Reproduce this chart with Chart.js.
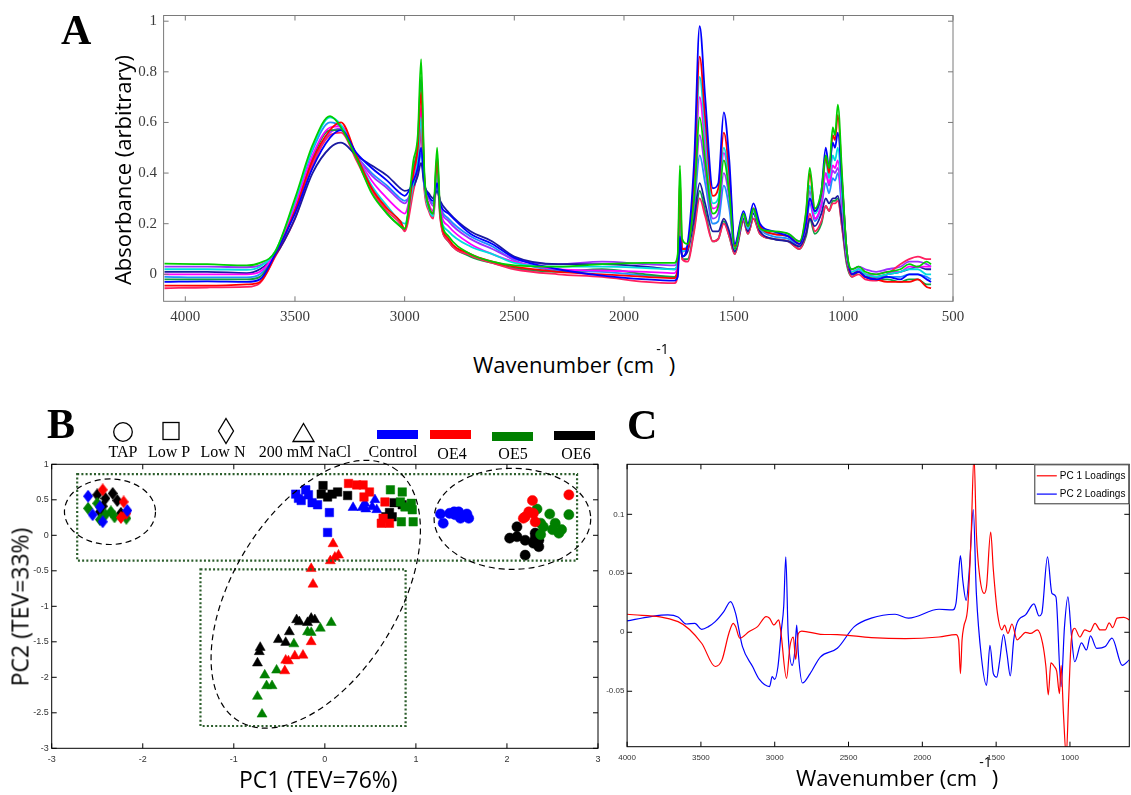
<!DOCTYPE html>
<html>
<head>
<meta charset="utf-8">
<script src="https://cdn.jsdelivr.net/npm/chart.js@4.4.1/dist/chart.umd.min.js"></script>
<style>
  body { margin: 0; background: #fff; }
  #page { position: relative; width: 1131px; height: 795px; overflow: hidden; font-family: "Open Sans", sans-serif; }
  canvas { position: absolute; }
  .panel { position: absolute; font-family: "Liberation Serif", serif; font-weight: bold; font-size: 42px; line-height: 42px; }
  .title { position: absolute; white-space: nowrap; font-size: 22px; line-height: 22px; color: #000; }
  .rot { transform: translate(-50%, -50%) rotate(-90deg); }
  .sup { font-size: 14px; position: relative; top: -19px; margin-left: 2px; }
  .leg { position: absolute; white-space: nowrap; font-family: "Liberation Serif", serif; font-size: 16px; line-height: 16px; transform: translateX(-50%); }
  .bar { position: absolute; height: 9px; width: 41px; }
</style>
</head>
<body>
<div id="page">
  <canvas id="chartA" width="1131" height="340" style="left:0;top:0"></canvas>
  <canvas id="chartB" width="610" height="415" style="left:0;top:380px"></canvas>
  <canvas id="chartC" width="531" height="415" style="left:600px;top:380px"></canvas>

  <div class="panel" style="left:61px;top:9px">A</div>
  <div class="panel" style="left:47px;top:403px">B</div>
  <div class="panel" style="left:627px;top:404px">C</div>

  <div class="title rot" style="left:122px;top:170px">Absorbance (arbitrary)</div>
  <div class="title" style="left:473px;top:353px">Wavenumber (cm<span class="sup">-1</span>)</div>
  <div class="title" style="left:239px;top:768px;font-size:23px;line-height:23px">PC1 (TEV=76%)</div>
  <div class="title rot" style="left:20px;top:607px;font-size:23px;line-height:23px">PC2 (TEV=33%)</div>
  <div class="title" style="left:796px;top:766px">Wavenumber (cm<span class="sup">-1</span>)</div>

  <svg style="position:absolute;left:0;top:400px" width="340" height="50">
    <g fill="none" stroke="#000" stroke-width="1.3">
      <circle cx="123" cy="32" r="9.3"/>
      <rect x="163" y="22.5" width="16" height="17"/>
      <polygon points="226,18.5 233.5,31 226,43.5 218.5,31"/>
      <polygon points="303.5,23.5 314,41.5 293,41.5"/>
    </g>
  </svg>
  <div class="leg" style="left:123px;top:444px">TAP</div>
  <div class="leg" style="left:169px;top:444px">Low P</div>
  <div class="leg" style="left:223px;top:444px">Low N</div>
  <div class="leg" style="left:305px;top:444px">200 mM NaCl</div>
  <div class="leg" style="left:393px;top:444px">Control</div>
  <div class="leg" style="left:452px;top:446px">OE4</div>
  <div class="leg" style="left:513px;top:446px">OE5</div>
  <div class="leg" style="left:576px;top:446px">OE6</div>
  <div class="bar" style="left:377px;top:430px;background:#0000ff"></div>
  <div class="bar" style="left:430px;top:430px;background:#ff0000"></div>
  <div class="bar" style="left:492px;top:432px;background:#008000"></div>
  <div class="bar" style="left:554px;top:431px;background:#000000"></div>
</div>

<script>
// ---- panel A: FTIR spectra (wavenumber grid + one array per spectrum) ----
const wnA = [
  4095, 3900, 3720, 3660, 3590, 3500, 3420, 3340, 3290, 3220,
  3150, 3080, 3020, 3000, 2960, 2940, 2925, 2910, 2890, 2870,
  2852, 2838, 2800, 2700, 2600, 2500, 2300, 2100, 1900, 1770,
  1755, 1745, 1735, 1710, 1680, 1655, 1630, 1595, 1570, 1545,
  1520, 1495, 1455, 1435, 1410, 1380, 1320, 1250, 1200, 1170,
  1153, 1130, 1100, 1080, 1065, 1048, 1038, 1025, 1005, 985,
  960, 930, 900, 850, 800, 740, 700, 660, 620, 600
];
const spec1 = [
  0.042, 0.040, 0.035, 0.045, 0.090, 0.300, 0.510, 0.625, 0.580, 0.460,
  0.320, 0.240, 0.190, 0.180, 0.450, 0.550, 0.850, 0.400, 0.270, 0.240,
  0.500, 0.250, 0.150, 0.080, 0.050, 0.035, 0.030, 0.040, 0.045, 0.045,
  0.080, 0.430, 0.140, 0.120, 0.300, 0.620, 0.450, 0.240, 0.270, 0.450,
  0.320, 0.100, 0.240, 0.190, 0.260, 0.180, 0.170, 0.160, 0.130, 0.250,
  0.420, 0.260, 0.330, 0.470, 0.420, 0.580, 0.550, 0.670, 0.380, 0.100,
  0.020, 0.030, 0.010, 0.000, 0.010, 0.020, 0.040, 0.030, 0.050, 0.040
];
const spec2 = [
  -0.030, -0.028, -0.030, -0.020, 0.080, 0.240, 0.420, 0.540, 0.570, 0.480,
  0.420, 0.370, 0.320, 0.310, 0.370, 0.420, 0.500, 0.360, 0.310, 0.290,
  0.360, 0.280, 0.240, 0.160, 0.120, 0.065, 0.020, -0.005, -0.020, -0.025,
  -0.010, 0.150, 0.070, 0.120, 0.450, 0.980, 0.700, 0.340, 0.360, 0.640,
  0.450, 0.120, 0.250, 0.200, 0.280, 0.200, 0.170, 0.150, 0.120, 0.200,
  0.300, 0.250, 0.330, 0.500, 0.420, 0.520, 0.500, 0.560, 0.350, 0.100,
  0.000, 0.010, -0.010, -0.020, -0.010, -0.020, 0.000, 0.000, -0.020, -0.030
];
const spec3 = [
  -0.045, -0.045, -0.040, -0.030, 0.075, 0.250, 0.450, 0.570, 0.600, 0.470,
  0.340, 0.260, 0.210, 0.180, 0.400, 0.500, 0.720, 0.380, 0.270, 0.240,
  0.450, 0.240, 0.140, 0.080, 0.050, 0.030, 0.010, 0.000, -0.010, -0.015,
  0.020, 0.380, 0.100, 0.100, 0.400, 0.860, 0.620, 0.310, 0.340, 0.560,
  0.400, 0.110, 0.240, 0.190, 0.260, 0.190, 0.160, 0.150, 0.120, 0.240,
  0.400, 0.250, 0.320, 0.460, 0.400, 0.550, 0.530, 0.630, 0.360, 0.100,
  0.000, 0.010, -0.010, -0.020, -0.030, -0.030, -0.030, -0.020, -0.050, -0.055
];
const spec4 = [
  0.020, 0.020, 0.018, 0.030, 0.090, 0.290, 0.500, 0.620, 0.590, 0.470,
  0.350, 0.270, 0.210, 0.200, 0.360, 0.450, 0.620, 0.350, 0.260, 0.230,
  0.400, 0.240, 0.170, 0.110, 0.080, 0.045, 0.030, 0.030, 0.025, 0.020,
  0.050, 0.250, 0.090, 0.110, 0.360, 0.780, 0.560, 0.280, 0.300, 0.500,
  0.360, 0.100, 0.230, 0.180, 0.250, 0.180, 0.160, 0.150, 0.120, 0.220,
  0.350, 0.240, 0.310, 0.450, 0.380, 0.470, 0.450, 0.500, 0.300, 0.080,
  0.010, 0.020, 0.000, -0.010, 0.000, 0.010, 0.020, 0.020, 0.000, 0.000
];
const spec5 = [
  0.000, 0.000, 0.000, 0.010, 0.085, 0.270, 0.470, 0.580, 0.585, 0.470,
  0.370, 0.300, 0.250, 0.240, 0.380, 0.470, 0.660, 0.360, 0.280, 0.250,
  0.420, 0.260, 0.190, 0.120, 0.080, 0.050, 0.020, 0.015, 0.010, 0.005,
  0.040, 0.300, 0.090, 0.100, 0.330, 0.700, 0.500, 0.260, 0.280, 0.480,
  0.350, 0.100, 0.230, 0.180, 0.250, 0.180, 0.160, 0.150, 0.120, 0.200,
  0.300, 0.220, 0.280, 0.400, 0.360, 0.430, 0.420, 0.450, 0.270, 0.070,
  0.010, 0.020, 0.000, 0.000, 0.010, 0.010, 0.030, 0.030, 0.030, 0.030
];
const spec6 = [
  0.010, 0.010, 0.005, 0.020, 0.075, 0.220, 0.400, 0.500, 0.520, 0.470,
  0.430, 0.390, 0.340, 0.330, 0.350, 0.390, 0.440, 0.350, 0.320, 0.300,
  0.330, 0.290, 0.245, 0.170, 0.130, 0.070, 0.040, 0.040, 0.030, 0.020,
  0.040, 0.120, 0.070, 0.090, 0.220, 0.360, 0.280, 0.170, 0.170, 0.220,
  0.170, 0.090, 0.220, 0.170, 0.240, 0.170, 0.140, 0.130, 0.110, 0.160,
  0.220, 0.190, 0.240, 0.300, 0.280, 0.300, 0.300, 0.310, 0.200, 0.060,
  0.000, 0.020, 0.000, -0.010, 0.000, 0.010, 0.020, 0.030, 0.020, 0.020
];
const spec7 = [
  -0.055, -0.052, -0.050, -0.035, 0.070, 0.220, 0.430, 0.550, 0.560, 0.450,
  0.330, 0.250, 0.200, 0.170, 0.330, 0.420, 0.580, 0.330, 0.250, 0.220,
  0.380, 0.220, 0.130, 0.075, 0.045, 0.020, 0.000, -0.010, -0.030, -0.035,
  0.000, 0.300, 0.060, 0.050, 0.170, 0.300, 0.230, 0.130, 0.140, 0.200,
  0.150, 0.080, 0.210, 0.160, 0.220, 0.160, 0.140, 0.130, 0.100, 0.160,
  0.240, 0.170, 0.210, 0.270, 0.250, 0.280, 0.280, 0.290, 0.180, 0.050,
  -0.010, 0.000, -0.020, -0.025, 0.000, 0.040, 0.060, 0.070, 0.060, 0.060
];
const spec8 = [
  -0.020, -0.020, -0.020, -0.010, 0.080, 0.260, 0.460, 0.570, 0.570, 0.460,
  0.330, 0.240, 0.190, 0.175, 0.420, 0.520, 0.780, 0.380, 0.260, 0.230,
  0.470, 0.230, 0.130, 0.070, 0.045, 0.025, 0.010, 0.020, 0.000, -0.010,
  0.020, 0.200, 0.060, 0.060, 0.180, 0.330, 0.250, 0.130, 0.140, 0.210,
  0.150, 0.080, 0.210, 0.160, 0.220, 0.160, 0.140, 0.130, 0.100, 0.150,
  0.220, 0.160, 0.200, 0.270, 0.250, 0.290, 0.290, 0.300, 0.180, 0.040,
  -0.010, 0.010, -0.010, -0.020, -0.020, -0.030, -0.020, -0.020, -0.040, -0.040
];
const spec9 = [
  0.030, 0.030, 0.028, 0.035, 0.085, 0.250, 0.440, 0.560, 0.575, 0.470,
  0.390, 0.340, 0.290, 0.280, 0.360, 0.430, 0.550, 0.350, 0.300, 0.270,
  0.380, 0.270, 0.210, 0.140, 0.100, 0.060, 0.040, 0.050, 0.040, 0.035,
  0.060, 0.220, 0.100, 0.110, 0.280, 0.550, 0.410, 0.220, 0.240, 0.400,
  0.300, 0.100, 0.220, 0.180, 0.250, 0.190, 0.170, 0.160, 0.130, 0.210,
  0.330, 0.220, 0.280, 0.400, 0.350, 0.410, 0.400, 0.420, 0.260, 0.070,
  0.020, 0.030, 0.020, 0.010, 0.020, 0.030, 0.050, 0.050, 0.040, 0.030
];
const spec10 = [
  -0.010, -0.012, -0.012, 0.000, 0.085, 0.280, 0.490, 0.600, 0.580, 0.470,
  0.400, 0.350, 0.300, 0.290, 0.340, 0.400, 0.480, 0.340, 0.300, 0.280,
  0.350, 0.270, 0.220, 0.150, 0.110, 0.055, 0.015, 0.010, -0.005, -0.010,
  0.010, 0.180, 0.070, 0.100, 0.260, 0.470, 0.360, 0.200, 0.210, 0.350,
  0.260, 0.090, 0.220, 0.170, 0.240, 0.180, 0.150, 0.140, 0.110, 0.190,
  0.280, 0.210, 0.270, 0.360, 0.320, 0.380, 0.370, 0.400, 0.240, 0.060,
  0.000, 0.010, -0.010, -0.010, -0.010, -0.010, 0.000, 0.000, -0.010, -0.020
];
const spectra = [spec1, spec2, spec3, spec4, spec5, spec6, spec7, spec8, spec9, spec10];
const spectraColors = ['#00d000', '#0000ff', '#ff0000', '#00dede', '#ff00ff',
                       '#1a1aa0', '#ff2060', '#10a040', '#9b30ff', '#1e90ff'];
const xTicksA = [500, 1000, 1500, 2000, 2500, 3000, 3500, 4000];
const yTicksA = [0, 0.2, 0.4, 0.6, 0.8, 1];

// ---- panel B: PCA scores [PC1, PC2] per medium / strain ----
const tapControl = [[1.27,0.30],[1.30,0.17],[1.37,0.31],[1.42,0.33],[1.47,0.33],[1.49,0.24],[1.56,0.30],[1.58,0.24],[1.43,0.29]];
const tapOE4 = [[2.28,0.49],[2.24,0.33],[2.20,0.26],[2.29,0.31],[2.31,0.19],[2.18,0.24],[2.68,0.57]];
const tapOE5 = [[2.33,0.37],[2.47,0.30],[2.68,0.29],[2.37,0.17],[2.40,0.12],[2.50,0.08],[2.57,0.03],[2.60,0.08],[2.37,0.01],[2.53,0.17]];
const tapOE6 = [[2.11,0.12],[2.03,-0.04],[2.11,-0.02],[2.20,-0.07],[2.31,0.03],[2.35,-0.07],[2.29,-0.11],[2.35,-0.16],[2.20,-0.28],[2.31,-0.04]];
const lowPControl = [[-0.32,0.58],[-0.29,0.52],[-0.26,0.49],[-0.21,0.64],[-0.18,0.57],[-0.14,0.46],[-0.08,0.43],[0.05,0.32],[0.03,0.04]];
const lowPOE4 = [[0.26,0.73],[0.35,0.71],[0.42,0.71],[0.43,0.54],[0.49,0.61],[0.66,0.47],[0.62,0.17],[0.71,0.17],[0.64,0.24]];
const lowPOE5 = [[0.72,0.64],[0.85,0.61],[0.83,0.47],[0.88,0.40],[0.96,0.36],[0.97,0.19],[0.84,0.19],[0.95,0.45]];
const lowPOE6 = [[-0.02,0.70],[-0.04,0.58],[0.03,0.54],[0.08,0.58],[0.14,0.61],[0.25,0.56],[0.76,0.46],[0.85,0.43],[0.71,0.32],[0.67,0.26],[0.74,0.26]];
const lowNControl = [[-2.60,0.55],[-2.55,0.29],[-2.44,0.19],[-2.17,0.35],[-2.47,0.40]];
const lowNOE4 = [[-2.44,0.64],[-2.21,0.47],[-2.18,0.31],[-2.24,0.25]];
const lowNOE5 = [[-2.60,0.38],[-2.50,0.45],[-2.47,0.22],[-2.35,0.33],[-2.31,0.26],[-2.18,0.24],[-2.41,0.29]];
const lowNOE6 = [[-2.50,0.57],[-2.41,0.52],[-2.44,0.41],[-2.33,0.59],[-2.28,0.49],[-2.47,0.33],[-2.24,0.31]];
const naclControl = [[0.31,0.39],[0.41,0.39],[0.45,0.37],[0.55,0.50],[0.57,0.36],[0.52,0.40],[0.44,0.45]];
const naclOE4 = [[0.09,-0.12],[0.06,-0.36],[0.11,-0.31],[0.15,-0.28],[-0.15,-0.47],[-0.13,-0.69],[-0.15,-1.50],[-0.24,-1.69],[-0.33,-1.70],[-0.40,-1.77],[-0.44,-1.91],[-0.43,-1.76]];
const naclOE5 = [[-0.19,-1.36],[-0.15,-1.37],[-0.05,-1.31],[0.07,-1.23],[-0.34,-1.53],[-0.53,-1.90],[-0.66,-1.97],[-0.64,-2.12],[-0.58,-2.12],[-0.74,-2.27],[-0.69,-2.52]];
const naclOE6 = [[-0.31,-1.19],[-0.28,-1.22],[-0.19,-1.23],[-0.15,-1.17],[-0.11,-1.19],[-0.39,-1.36],[-0.51,-1.47],[-0.43,-1.51],[-0.71,-1.58],[-0.72,-1.64],[-0.74,-1.80]];
const xTicksB = [-3, -2, -1, 0, 1, 2, 3];
const yTicksB = [-3, -2.5, -2, -1.5, -1, -0.5, 0, 0.5, 1];

// grouping marks in data units (ellipse radii in PC1 units, rotation in degrees)
const groupBoxes = [
  { x0: -2.72, x1: 2.77, y0: -0.357, y1: 0.863 },
  { x0: -1.366, x1: 0.887, y0: -2.686, y1: -0.479 }
];
const groupEllipses = [
  { cx: -2.36, cy: 0.332, rx: 0.50, ry: 0.36, rot: 0 },
  { cx: -0.10, cy: -0.83, rx: 1.63, ry: 0.91, rot: -58.7 },
  { cx: 2.06, cy: 0.232, rx: 0.86, ry: 0.555, rot: 0 }
];

// ---- panel C: PCA loadings ----
const pc1Wn = [4000,3655,3495,3403,3357,3311,3281,3265,3237,3173,3116,3058,3035,3005,2973,2960,2920,2897,2874,2858,2840,2817,2691,2576,2346,2116,1887,1772,1754,1742,1731,1719,1692,1669,1650,1634,1611,1581,1565,1537,1519,1491,1461,1443,1420,1393,1358,1335,1301,1267,1221,1186,1163,1147,1129,1106,1090,1071,1060,1044,1025,1009,991,968,933,899,865,830,796,761,734,711,681,635,598];
const pc1Val = [0.0153,0.009,-0.0093,-0.029,-0.0234,-0.001,0.0076,0.0048,-0.005,0.0006,0.0048,0.0133,0.0119,0.0062,0.0105,0.002,-0.039,-0.012,-0.004,-0.023,-0.001,0.001,-0.0017,-0.002,-0.0045,-0.0054,-0.004,-0.002,-0.0065,-0.035,-0.0065,0.0048,0.022,0.084,0.150,0.084,0.047,0.033,0.039,0.085,0.053,0.016,0.002,0.006,-0.001,0.007,-0.0065,-0.004,0,-0.001,0.002,-0.009,-0.029,-0.053,-0.026,-0.029,-0.033,-0.052,-0.028,-0.069,-0.105,-0.057,-0.0065,0.0034,-0.004,0.002,0.0006,0.0076,0.002,0.002,0.008,0.004,0.012,0.0127,0.0105];
const pc2Wn = [4000,3839,3724,3655,3598,3541,3495,3449,3403,3345,3299,3265,3219,3150,3104,3035,3017,3001,2978,2955,2939,2925,2909,2882,2863,2851,2840,2812,2760,2691,2576,2461,2346,2185,2094,1887,1795,1772,1756,1742,1726,1703,1680,1655,1634,1600,1565,1542,1519,1496,1477,1450,1427,1404,1381,1358,1301,1244,1209,1191,1152,1122,1095,1060,1037,1014,991,968,922,888,861,819,761,715,646,598];
const pc2Val = [0.0096,0.0133,0.0147,0.013,0.007,0.0076,0.0025,0.0048,0.009,0.0175,0.026,0.016,-0.012,-0.029,-0.040,-0.046,-0.0376,-0.040,-0.029,0.002,0.022,0.064,-0.001,-0.028,-0.015,0.006,-0.018,-0.043,-0.035,-0.021,-0.0136,0.0048,0.012,0.0153,0.012,0.0195,0.019,0.0246,0.047,0.065,0.044,0.027,0.056,0.104,0.033,-0.021,-0.045,-0.011,-0.035,-0.038,-0.025,-0.002,-0.018,-0.037,-0.0065,0.008,0.0147,0.024,0.0138,0.016,0.064,0.033,0.030,-0.046,0.0048,0.030,-0.001,-0.025,-0.009,-0.015,-0.003,-0.0136,-0.012,-0.005,-0.028,-0.0234];
const xTicksC = [1000, 1500, 2000, 2500, 3000, 3500, 4000];
const yTicksC = [-0.05, 0, 0.05, 0.1];

// ---- shared helpers ----
// box round the plot with MATLAB style inward ticks on all four sides
const framePlugin = {
  id: 'frame',
  afterDraw(chart, args, opts) {
    const { ctx, chartArea: a, scales } = chart;
    const L = opts.tickLen;
    ctx.save();
    ctx.strokeStyle = opts.color;
    ctx.lineWidth = 1;
    ctx.strokeRect(a.left, a.top, a.right - a.left, a.bottom - a.top);
    ctx.beginPath();
    scales.x.ticks.forEach(t => {
      const px = scales.x.getPixelForValue(t.value);
      ctx.moveTo(px, a.bottom); ctx.lineTo(px, a.bottom - L);
      ctx.moveTo(px, a.top); ctx.lineTo(px, a.top + L);
    });
    scales.y.ticks.forEach(t => {
      const py = scales.y.getPixelForValue(t.value);
      ctx.moveTo(a.left, py); ctx.lineTo(a.left + L, py);
      ctx.moveTo(a.right, py); ctx.lineTo(a.right - L, py);
    });
    ctx.stroke();
    ctx.restore();
  }
};

function axis(min, max, tickValues, size, pad, font, color, reverse) {
  return {
    type: 'linear',
    min: min,
    max: max,
    reverse: !!reverse,
    grid: { display: false, drawTicks: false },
    border: { display: false },
    afterBuildTicks: s => { s.ticks = tickValues.map(v => ({ value: v })); },
    afterFit: s => { if (s.isHorizontal()) s.height = size; else s.width = size; },
    ticks: {
      autoSkip: false,
      maxRotation: 0,
      padding: pad,
      color: color,
      font: font,
      callback: v => String(v)
    }
  };
}

const serifTicks = { family: 'Liberation Serif', size: 15 };
const smallTicks = { family: 'Liberation Sans', size: 9 };
const tinyTicks = { family: 'Liberation Sans', size: 8 };

// ---- chart A ----
new Chart(document.getElementById('chartA'), {
  type: 'line',
  data: {
    datasets: spectra.map((s, i) => ({
      label: 'spectrum ' + (i + 1),
      data: s.map((v, k) => ({ x: wnA[k], y: v })),
      borderColor: spectraColors[i],
      borderWidth: 1.8,
      pointRadius: 0,
      cubicInterpolationMode: 'monotone',
      fill: false
    }))
  },
  options: {
    responsive: false,
    animation: false,
    devicePixelRatio: 1,
    layout: { padding: { left: 0, top: 15.3, right: 178, bottom: 0 } },
    scales: {
      x: axis(500, 4099, xTicksA, 38.7, 7, serifTicks, '#3a3a3a', true),
      y: axis(-0.1066, 1.0225, yTicksA, 163.6, 6.5, serifTicks, '#3a3a3a')
    },
    plugins: {
      legend: { display: false },
      tooltip: { enabled: false },
      frame: { color: '#7a7a7a', tickLen: 5 }
    }
  },
  plugins: [framePlugin]
});

// ---- chart B ----
function diamondMarker(color) {
  const c = document.createElement('canvas');
  c.width = 10; c.height = 13;
  const g = c.getContext('2d');
  g.fillStyle = color;
  g.beginPath();
  g.moveTo(5, 0); g.lineTo(10, 6.5); g.lineTo(5, 13); g.lineTo(0, 6.5);
  g.closePath();
  g.fill();
  return c;
}

const strainColors = ['#0000ff', '#ff0000', '#008000', '#000000'];
const strainNames = ['Control', 'OE4', 'OE5', 'OE6'];
const media = [
  { name: 'TAP', style: 'circle', radius: 5.1, sets: [tapControl, tapOE4, tapOE5, tapOE6] },
  { name: 'Low P', style: 'rect', radius: 6, sets: [lowPControl, lowPOE4, lowPOE5, lowPOE6] },
  { name: 'Low N', style: 'diamond', radius: 6, sets: [lowNControl, lowNOE4, lowNOE5, lowNOE6] },
  { name: '200 mM NaCl', style: 'triangle', radius: 5.8, sets: [naclControl, naclOE4, naclOE5, naclOE6] }
];

const scoreSets = [];
media.forEach(m => {
  m.sets.forEach((pts, i) => {
    scoreSets.push({
      label: m.name + ' ' + strainNames[i],
      data: pts.map(p => ({ x: p[0], y: p[1] })),
      pointStyle: m.style === 'diamond' ? diamondMarker(strainColors[i]) : m.style,
      pointRadius: m.radius,
      backgroundColor: strainColors[i],
      borderColor: strainColors[i],
      borderWidth: 0.5
    });
  });
});

const groupMarks = {
  id: 'groupMarks',
  afterDatasetsDraw(chart) {
    const { ctx, scales: { x, y } } = chart;
    ctx.save();
    ctx.strokeStyle = '#2c5e2c';
    ctx.lineWidth = 2.2;
    ctx.setLineDash([2, 2.2]);
    groupBoxes.forEach(b => {
      const l = x.getPixelForValue(b.x0), r = x.getPixelForValue(b.x1);
      const t = y.getPixelForValue(b.y1), bt = y.getPixelForValue(b.y0);
      ctx.strokeRect(l, t, r - l, bt - t);
    });
    const unit = x.getPixelForValue(1) - x.getPixelForValue(0);
    ctx.strokeStyle = '#000';
    ctx.lineWidth = 1.2;
    ctx.setLineDash([6, 4]);
    groupEllipses.forEach(e => {
      ctx.beginPath();
      ctx.ellipse(x.getPixelForValue(e.cx), y.getPixelForValue(e.cy),
                  e.rx * unit, e.ry * unit, e.rot * Math.PI / 180, 0, 2 * Math.PI);
      ctx.stroke();
    });
    ctx.restore();
  }
};

new Chart(document.getElementById('chartB'), {
  type: 'scatter',
  data: { datasets: scoreSets },
  options: {
    responsive: false,
    animation: false,
    devicePixelRatio: 1,
    layout: { padding: { left: 0, top: 84.3, right: 12, bottom: 0 } },
    scales: {
      x: axis(-3, 3, xTicksB, 46.7, 6.3, smallTicks, '#333'),
      y: axis(-3, 1, yTicksB, 51.7, 3, smallTicks, '#333')
    },
    plugins: {
      legend: { display: false },
      tooltip: { enabled: false },
      frame: { color: '#000', tickLen: 5 }
    }
  },
  plugins: [groupMarks, framePlugin]
});

// ---- chart C ----
const boxLegend = {
  id: 'boxLegend',
  afterDraw(chart) {
    const { ctx, chartArea: a } = chart;
    const w = 95, h = 40;
    const x0 = a.right - w, y0 = a.top;
    ctx.save();
    ctx.fillStyle = '#fff';
    ctx.fillRect(x0, y0, w, h);
    ctx.strokeStyle = '#333';
    ctx.lineWidth = 1;
    ctx.strokeRect(x0 + 0.5, y0 + 0.5, w - 1, h - 1);
    ctx.font = '10px "Liberation Sans"';
    ctx.textBaseline = 'middle';
    chart.data.datasets.forEach((ds, i) => {
      const yy = y0 + 11.5 + i * 18.3;
      ctx.strokeStyle = ds.borderColor;
      ctx.lineWidth = 1.2;
      ctx.beginPath();
      ctx.moveTo(x0 + 2.5, yy); ctx.lineTo(x0 + 22.5, yy);
      ctx.stroke();
      ctx.fillStyle = '#000';
      ctx.fillText(ds.label, x0 + 25.5, yy);
    });
    ctx.restore();
  }
};

new Chart(document.getElementById('chartC'), {
  type: 'line',
  data: {
    datasets: [
      {
        label: 'PC 1 Loadings',
        data: pc1Wn.map((w, k) => ({ x: w, y: pc1Val[k] })),
        borderColor: '#ff0000',
        borderWidth: 1.2,
        pointRadius: 0,
        cubicInterpolationMode: 'monotone'
      },
      {
        label: 'PC 2 Loadings',
        data: pc2Wn.map((w, k) => ({ x: w, y: pc2Val[k] })),
        borderColor: '#0000ff',
        borderWidth: 1.2,
        pointRadius: 0,
        cubicInterpolationMode: 'monotone'
      }
    ]
  },
  options: {
    responsive: false,
    animation: false,
    devicePixelRatio: 1,
    layout: { padding: { left: 0, top: 84.3, right: 1.7, bottom: 0 } },
    scales: {
      x: axis(598, 4000, xTicksC, 48.3, 6.2, tinyTicks, '#333', true),
      y: axis(-0.097, 0.1424, yTicksC, 27.1, 2.7, tinyTicks, '#333')
    },
    plugins: {
      legend: { display: false },
      tooltip: { enabled: false },
      frame: { color: '#000', tickLen: 5 }
    }
  },
  plugins: [framePlugin, boxLegend]
});
</script>
</body>
</html>
